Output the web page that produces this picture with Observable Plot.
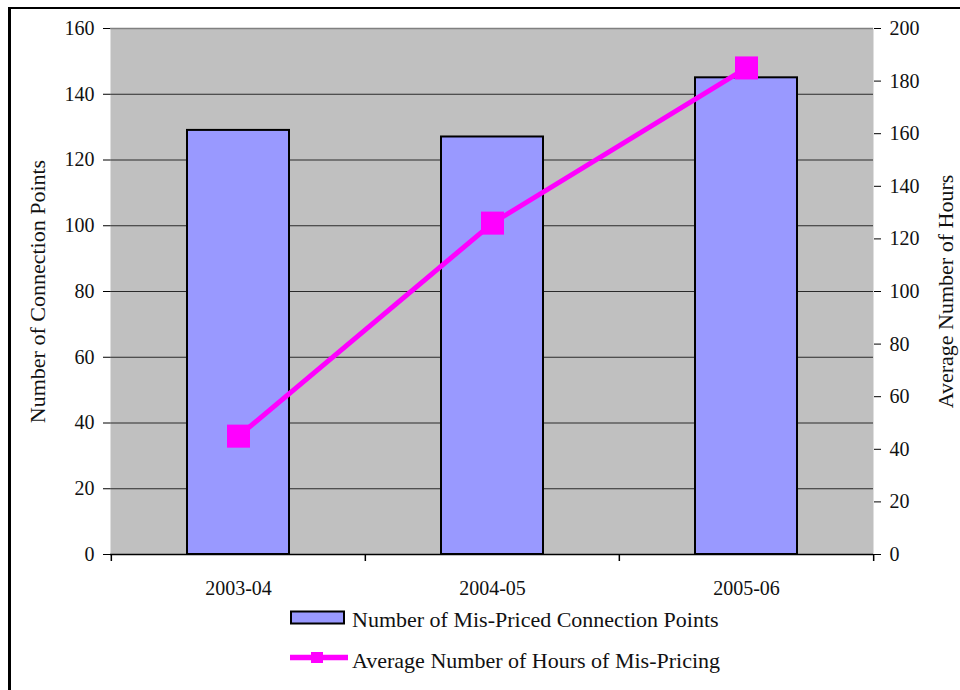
<!DOCTYPE html>
<html>
<head>
<meta charset="utf-8">
<script src="https://cdn.jsdelivr.net/npm/d3@7"></script>
<script src="https://cdn.jsdelivr.net/npm/@observablehq/plot@0.6"></script>
<style>
  html, body { margin: 0; padding: 0; background: #fff; }
  #wrap { position: relative; width: 960px; height: 690px; overflow: hidden; background: #fff; font-family: "Liberation Serif", "Times New Roman", Times, "DejaVu Serif", "Noto Serif", FreeSerif, serif; }
  #border { position: absolute; left: 8px; top: 7px; width: 1200px; height: 1200px; border-left: 3px solid #000; border-top: 2px solid #000; pointer-events: none; }
  #chart { position: absolute; left: 0; top: 0; }
  .lg-text { position: absolute; font-size: 22px; line-height: 22px; color: #111; white-space: nowrap; }
  #lg-svg { position: absolute; left: 0; top: 590px; }
</style>
</head>
<body>
<div id="wrap">
  <div id="chart"></div>
  <svg id="lg-svg" width="400" height="100"></svg>
  <div id="border"></div>
</div>
<script>
// ---- data ----
const years = ["2003-04", "2004-05", "2005-06"];
const connectionPoints = [129, 127, 145];
const avgHours = [45, 126, 185];
const leftTicks = [0, 20, 40, 60, 80, 100, 120, 140, 160];
const rightTicks = [0, 20, 40, 60, 80, 100, 120, 140, 160, 180, 200];
const seriesNames = ["Number of Mis-Priced Connection Points", "Average Number of Hours of Mis-Pricing"];
const leftTitle = "Number of Connection Points";
const rightTitle = "Average Number of Hours";

const leftMax = 160, rightMax = 200;
const k = leftMax / rightMax; // right-axis values mapped onto left scale

const rows = years.map((y, i) => ({year: y, points: connectionPoints[i], hours: avgHours[i], hoursScaled: avgHours[i] * k}));

const W = 960, H = 600;
const mL = 110, mR = 87, mT = 28, mB = 46;
const step = (W - mL - mR) / years.length;
const plotH = H - mT - mB;

const magenta = "#FF00FF";
const serif = "'Liberation Serif', 'Times New Roman', Times, 'DejaVu Serif', 'Noto Serif', FreeSerif, serif";

const chart = Plot.plot({
  width: W,
  height: H,
  marginLeft: mL,
  marginRight: mR,
  marginTop: mT,
  marginBottom: mB,
  style: {fontFamily: serif, fontSize: "20px", background: "transparent", color: "#111", overflow: "visible"},
  x: {type: "band", domain: years, paddingInner: 0.6, paddingOuter: 0.3, label: null},
  y: {domain: [0, leftMax], label: null},
  marks: [
    Plot.frame({fill: "#C0C0C0", stroke: null}),
    Plot.gridY(leftTicks.filter(t => t > 0 && t < leftMax), {stroke: "#2a2a2a", strokeOpacity: 1, strokeWidth: 1}),
    Plot.ruleY([leftMax], {stroke: "#808080", strokeWidth: 1.5}),
    Plot.barY(rows, {x: "year", y: "points", fill: "#9999FF", stroke: "#000", strokeWidth: 2}),
    // axis lines
    Plot.ruleX([0], {frameAnchor: "left", stroke: "#000", strokeWidth: 1.5}),
    Plot.ruleY([0], {stroke: "#000", strokeWidth: 1.5}),
    Plot.ruleX([0], {frameAnchor: "right", stroke: "#222", strokeWidth: 1.5}),
    // x category boundary ticks
    Plot.ruleX(years, {x: d => d, dx: -step / 2, insetTop: plotH, insetBottom: -7, stroke: "#000", strokeWidth: 1.5}),
    Plot.ruleX(years.slice(-1), {x: d => d, dx: step / 2, insetTop: plotH, insetBottom: -7, stroke: "#000", strokeWidth: 1.5}),
    Plot.axisX({tickSize: 0, tickPadding: 26, fontSize: 20, label: null}),
    Plot.axisY(leftTicks, {anchor: "left", tickSize: 7, tickPadding: 9, fontSize: 20, label: null, stroke: "#000"}),
    Plot.axisY(rightTicks.map(v => v * k), {anchor: "right", tickSize: 7, tickPadding: 9, fontSize: 20, label: null, tickFormat: v => Math.round(v / k), stroke: "#000"}),
    // line series (right axis)
    Plot.line(rows, {x: "year", y: "hoursScaled", stroke: magenta, strokeWidth: 5}),
    Plot.dot(rows, {x: "year", y: "hoursScaled", symbol: "square", r: 13, fill: magenta, stroke: null}),
    // axis titles
    Plot.text([leftTitle], {text: d => d, frameAnchor: "left", textAnchor: "middle", dx: -73, rotate: -90, fontSize: 22, fill: "#111"}),
    Plot.text([rightTitle], {text: d => d, frameAnchor: "right", textAnchor: "middle", dx: 72, rotate: -90, fontSize: 22, fill: "#111"})
  ]
});
document.getElementById("chart").appendChild(chart);

// ---- legend ----
const wrap = document.getElementById("wrap");
const lg = d3.select("#lg-svg");
// bar swatch
lg.append("rect").attr("x", 291).attr("y", 21.5).attr("width", 53).attr("height", 12)
  .attr("fill", "#9999FF").attr("stroke", "#000").attr("stroke-width", 2);
// line swatch
lg.append("line").attr("x1", 290).attr("x2", 348).attr("y1", 67.5).attr("y2", 67.5)
  .attr("stroke", magenta).attr("stroke-width", 5.5);
lg.append("rect").attr("x", 311).attr("y", 62).attr("width", 12).attr("height", 11).attr("fill", magenta);

seriesNames.forEach((name, i) => {
  const d = document.createElement("div");
  d.className = "lg-text";
  d.style.left = "352px";
  d.style.top = (i === 0 ? 608.5 : 649.5) + "px";
  d.textContent = name;
  wrap.appendChild(d);
});
</script>
</body>
</html>
